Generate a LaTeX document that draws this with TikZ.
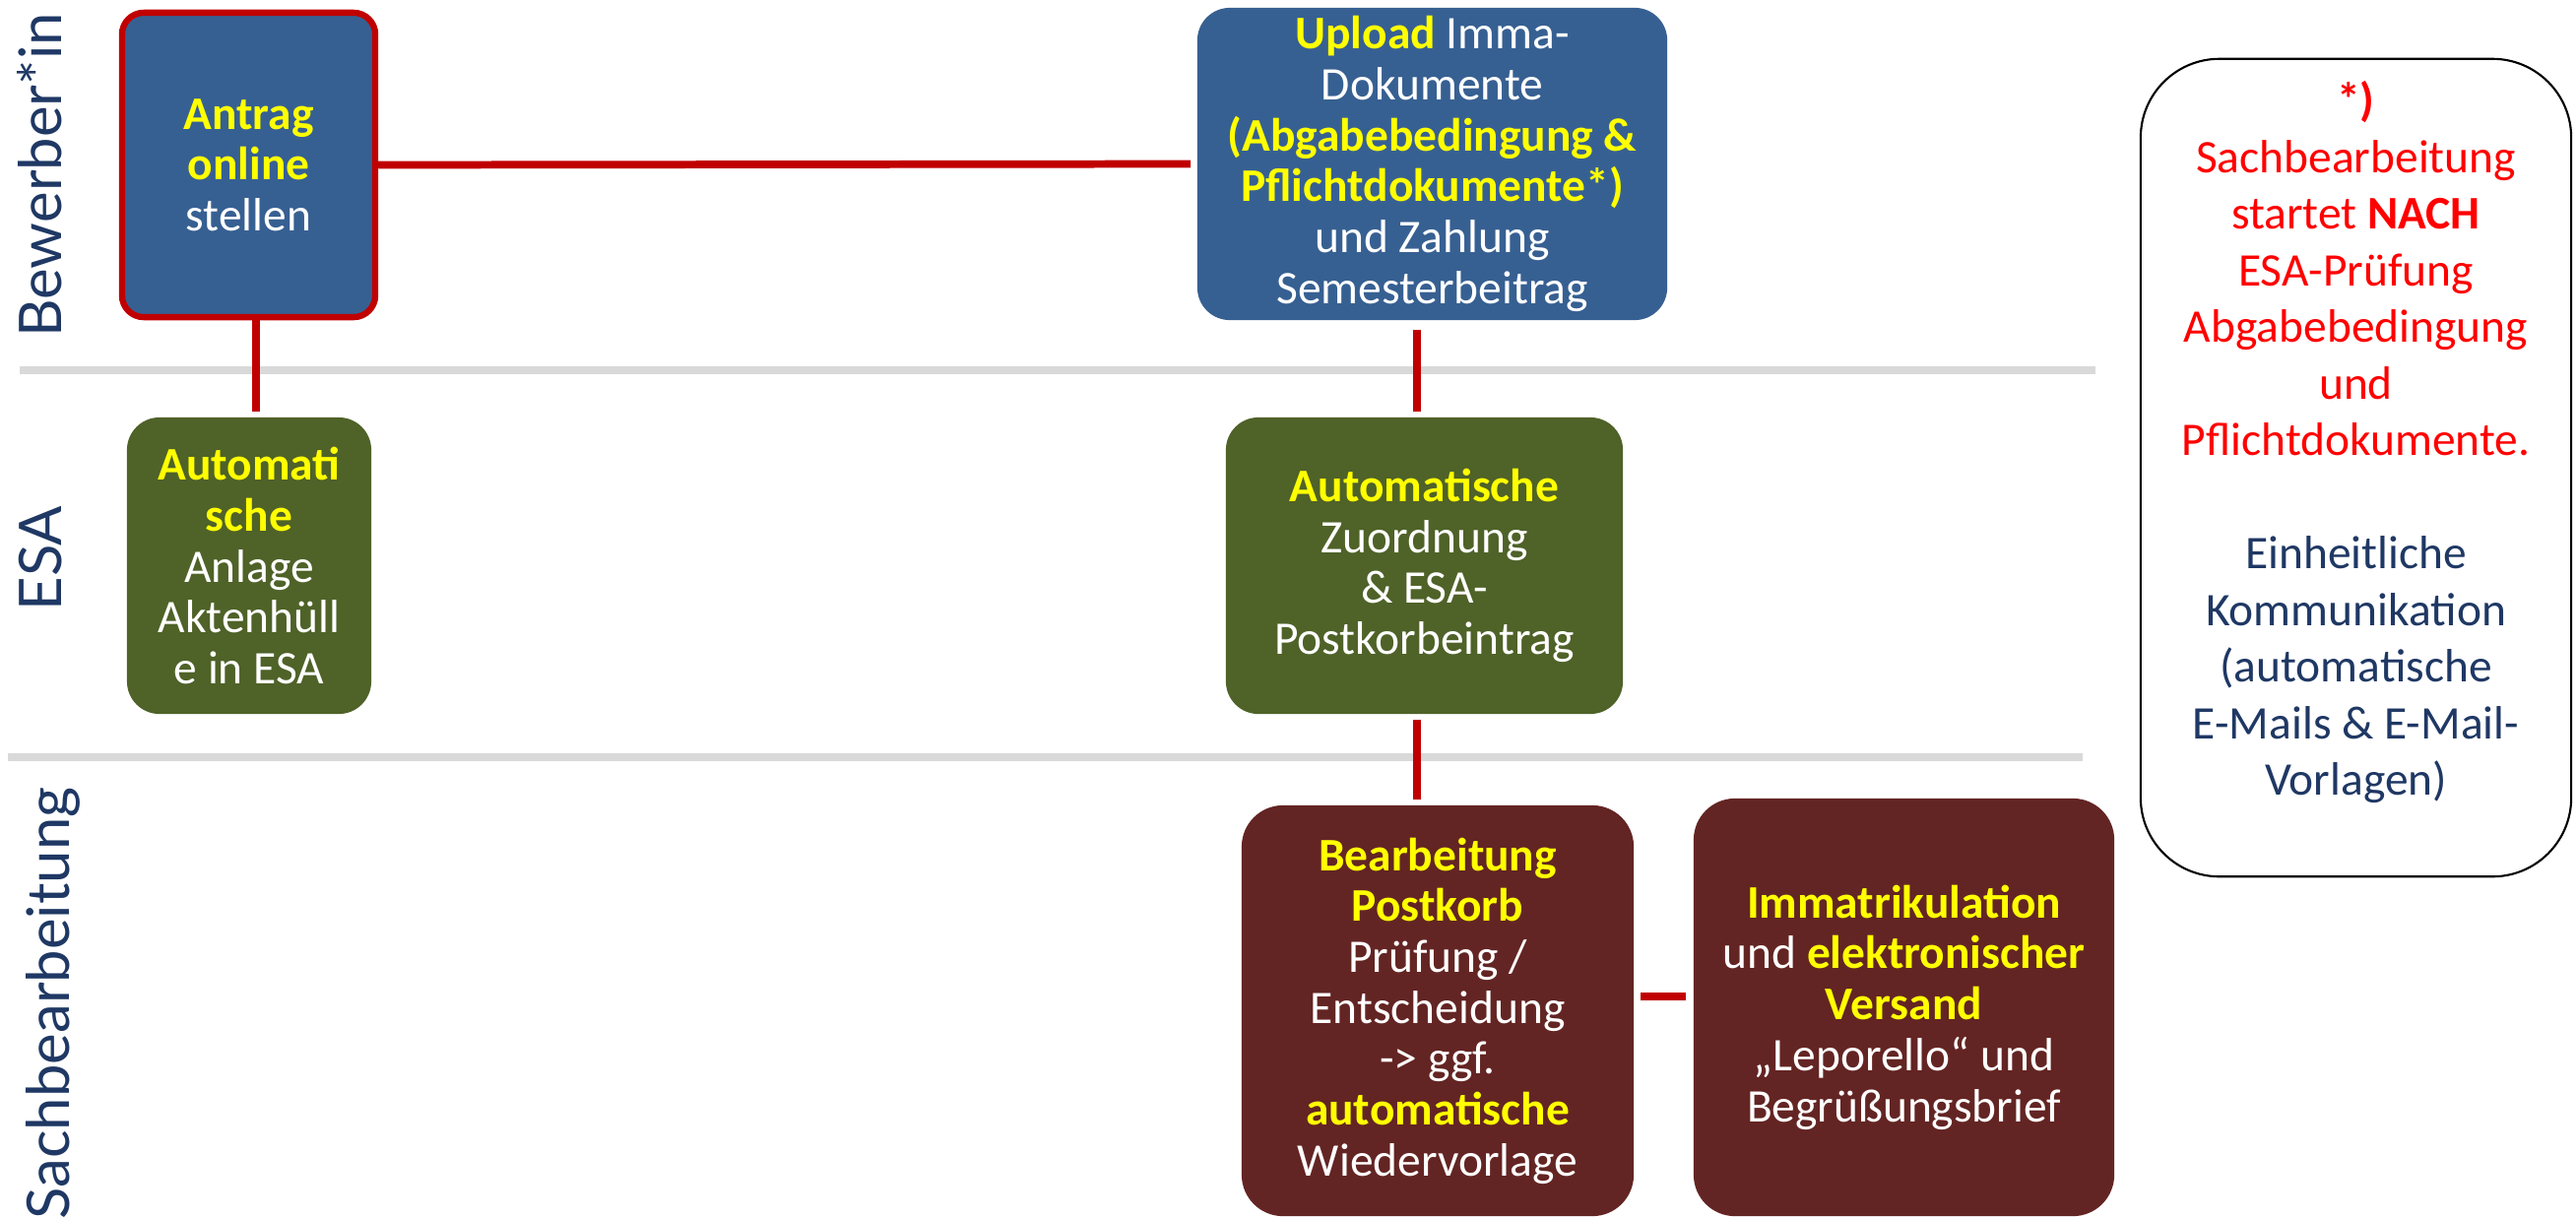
\documentclass[tikz,border=0pt]{standalone}
\usepackage{fontspec}
\setmainfont{Carlito}
\newfontfamily\lanefont{Lato}
\definecolor{kastenblau}{HTML}{376092}
\definecolor{kastenoliv}{HTML}{4F6228}
\definecolor{kastenrot}{HTML}{632523}
\definecolor{linienrot}{HTML}{C00000}
\definecolor{bahngrau}{HTML}{D9D9D9}
\definecolor{titelblau}{HTML}{1F3864}
\definecolor{gelb}{HTML}{FFFF00}
\newcommand{\hvor}[1]{\textbf{\textcolor{gelb}{#1}}}
\begin{document}
\begin{tikzpicture}[
          x=0.01cm, y=-0.01cm,
          box/.style={rectangle, rounded corners=0.33cm, text=white,
                      align=center, inner sep=0pt,
                      font=\fontsize{13.5}{14.7}\selectfont},
          bewerber/.style={box, fill=kastenblau},
          esa/.style={box, fill=kastenoliv},
          sach/.style={box, fill=kastenrot},
          link/.style={draw=linienrot, line width=2.2pt},
          lane/.style={draw=bahngrau, line width=2.3pt},
          bahn/.style={rotate=90, anchor=base, text=titelblau, inner sep=0pt,
                       font=\lanefont\fontsize{17}{20}\selectfont}
        ]
          \useasboundingbox (0,0) rectangle (2616,1236);
          \draw[lane] (20,376) -- (2128,376);
          \draw[lane] (8,769) -- (2115,769);
          \node[bahn] (bewerberin) at (62,178) {Bewerber*in};
          \node[bahn] (esa) at (62,567) {ESA};
          \node[bahn] (sachbearbeitung) at (70,1019) {Sachbearbeitung};
          \node[bewerber, draw=linienrot, line width=1.8pt, rounded corners=0.22cm,
                minimum width=2.57cm, minimum height=3.09cm] (antrag) at (252.5,167.5)
                {\hvor{Antrag}\\\hvor{online}\\stellen};
          \node[bewerber, minimum width=4.77cm, minimum height=3.17cm] (upload) at (1454.5,166.5)
                {\hvor{Upload} Imma-\\Dokumente\\\hvor{(Abgabebedingung \&}\\\hvor{Pflichtdokumente*)}\\und Zahlung\\Semesterbeitrag};
          \node[esa, minimum width=2.48cm, minimum height=3.01cm] (aktenhuelle) at (253,574.5)
                {\hvor{Automati}\\\hvor{sche}\\Anlage\\Aktenhüll\\e in ESA};
          \node[esa, minimum width=4.03cm, minimum height=3.01cm] (zuordnung) at (1446.5,574.5)
                {\hvor{Automatische}\\Zuordnung\\\& ESA-\\Postkorbeintrag};
          \node[sach, rounded corners=0.42cm, minimum width=3.98cm, minimum height=4.17cm] (postkorb) at (1460,1026.5)
                {\hvor{Bearbeitung}\\\hvor{Postkorb}\\Prüfung /\\Entscheidung\\-> ggf.\\\hvor{automatische}\\Wiedervorlage};
          \node[sach, rounded corners=0.42cm, minimum width=4.27cm, minimum height=4.24cm] (versand) at (1933.5,1023)
                {\hvor{Immatrikulation}\\und \hvor{elektronischer}\\\hvor{Versand}\\„Leporello“ und\\Begrüßungsbrief};
          \node[rectangle, draw=black, line width=0.6pt, rounded corners=0.8cm,
                minimum width=4.37cm, minimum height=8.30cm] (hinweis) at (2392.5,475) {};
          \node[align=center, text=red, inner sep=0pt,
                font=\fontsize{13.5}{16.35}\selectfont] (hinweistext) at (2392.5,449)
                {\textbf{*)}\\Sachbearbeitung\\startet \textbf{NACH}\\ESA-Prüfung\\Abgabebedingung\\und\\Pflichtdokumente.\\[16.35pt]
                 \textcolor{titelblau}{Einheitliche}\\\textcolor{titelblau}{Kommunikation}\\\textcolor{titelblau}{(automatische}\\
                 \textcolor{titelblau}{E-Mails \& E-Mail-}\\\textcolor{titelblau}{Vorlagen)}};
          \coordinate (links) at (260,0);
          \coordinate (achse) at (1439,0);
          \coordinate (quer) at (0,1012);
          \draw[link, shorten >=0.06cm] (antrag.east) -- (upload.west);
          \draw[link, shorten >=0.05cm] (antrag.south -| links) -- (aktenhuelle.north -| links);
          \draw[link, shorten <=0.09cm, shorten >=0.05cm] (upload.south -| achse) -- (zuordnung.north -| achse);
          \draw[link, shorten <=0.05cm, shorten >=0.05cm] (zuordnung.south -| achse) -- (postkorb.north -| achse);
          \draw[link, shorten <=0.06cm, shorten >=0.07cm] (postkorb.east |- quer) -- (versand.west |- quer);
        \end{tikzpicture}
\end{document}
